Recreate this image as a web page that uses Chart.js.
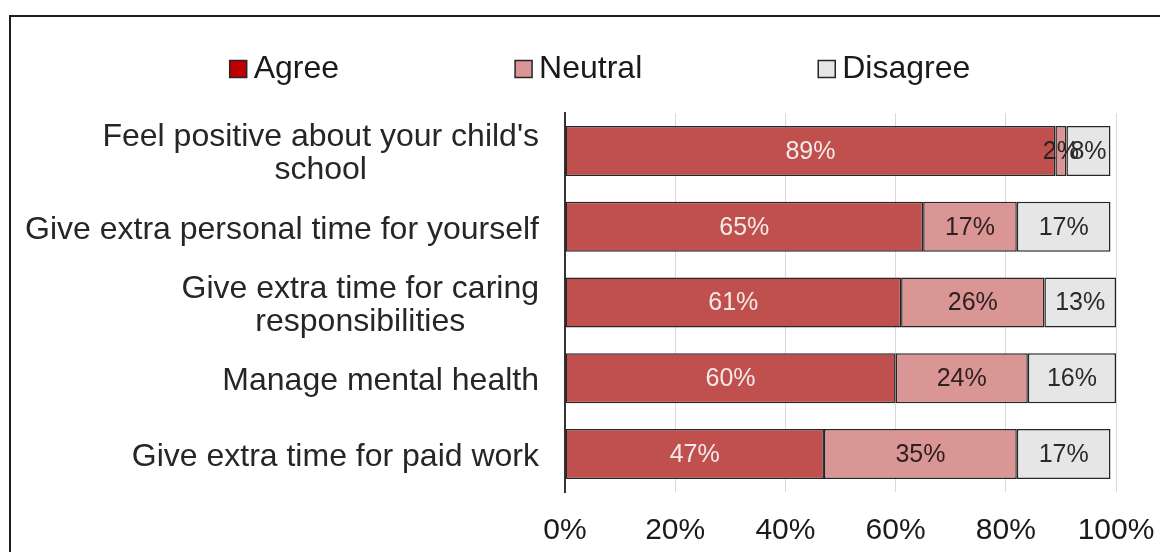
<!DOCTYPE html>
<html>
<head>
<meta charset="utf-8">
<script src="https://cdn.jsdelivr.net/npm/chart.js@4.4.1/dist/chart.umd.min.js"></script>
<style>
  html, body { margin: 0; padding: 0; background: #fff; overflow: hidden; }
  #wrap { position: absolute; left: 0; top: 0; width: 1160px; height: 552px; }
  #frame { position: absolute; left: 9px; top: 15px; width: 1200px; height: 600px; border: 2px solid #1e1e1e; pointer-events: none; }
</style>
</head>
<body>
<div id="wrap"><canvas id="surveyChart"></canvas></div>
<div id="frame"></div>
<script>
const FONT = '"Liberation Sans", Arial, sans-serif';

const categories = [
    ["Feel positive about your child's", "school"],
    ["Give extra personal time for yourself"],
    ["Give extra time for caring", "responsibilities"],
    ["Manage mental health"],
    ["Give extra time for paid work"]
];
const seriesNames = ["Agree", "Neutral", "Disagree"];
const agree = [89, 65, 61, 60, 47];
const neutral = [2, 17, 26, 24, 35];
const disagree = [8, 17, 13, 16, 17];

const barColors = ["#c0504d", "#d99694", "#e7e6e6"];
const legendColors = ["#c00000", "#d99694", "#e7e6e6"];
const valueColors = ["#f5e9e9", "#2e2121", "#2a2a2a"];

// category names on the left, each multi-line name centred on its own longest line
const categoryLabels = {
    id: "categoryLabels",
    afterDraw(chart) {
        const {ctx, scales: {y}} = chart;
        ctx.save();
        ctx.font = "32px " + FONT;
        ctx.fillStyle = "#262626";
        ctx.textAlign = "center";
        ctx.textBaseline = "middle";
        const right = y.right - 26;
        categories.forEach((lines, i) => {
            const widest = Math.max(...lines.map(l => ctx.measureText(l).width));
            const cy = y.getPixelForTick(i) + 3;
            lines.forEach((line, j) => {
                ctx.fillText(line, right - widest / 2, cy + (j - (lines.length - 1) / 2) * 33);
            });
        });
        ctx.restore();
    }
};

// percentage written in the middle of every segment
const valueLabels = {
    id: "valueLabels",
    afterDatasetsDraw(chart) {
        const ctx = chart.ctx;
        ctx.save();
        ctx.font = "25px " + FONT;
        ctx.textAlign = "center";
        ctx.textBaseline = "middle";
        chart.data.datasets.forEach((ds, di) => {
            ctx.fillStyle = valueColors[di];
            chart.getDatasetMeta(di).data.forEach((bar, i) => {
                const {x, y, base} = bar.getProps(["x", "y", "base"], true);
                ctx.fillText(ds.data[i] + "%", (x + base) / 2, y + 1);
            });
        });
        ctx.restore();
    }
};

// legend row above the plot
const legendRow = {
    id: "legendRow",
    afterDraw(chart) {
        const ctx = chart.ctx;
        const box = 17, gapText = 7, gapItem = 176, cy = 69, centre = 600;
        ctx.save();
        ctx.font = "32px " + FONT;
        const items = chart.data.datasets.map((ds, i) => ({
            text: ds.label,
            color: legendColors[i],
            w: box + gapText + ctx.measureText(ds.label).width
        }));
        const total = items.reduce((s, it) => s + it.w, 0) + gapItem * (items.length - 1);
        let x = centre - total / 2;
        ctx.textBaseline = "middle";
        ctx.textAlign = "left";
        items.forEach(it => {
            ctx.fillStyle = it.color;
            ctx.fillRect(x, cy - box / 2, box, box);
            ctx.strokeStyle = "#262626";
            ctx.lineWidth = 1.5;
            ctx.strokeRect(x, cy - box / 2, box, box);
            ctx.fillStyle = "#1a1a1a";
            ctx.fillText(it.text, x + box + gapText, cy);
            x += it.w + gapItem;
        });
        ctx.restore();
    }
};

const ctx = document.getElementById("surveyChart");
new Chart(ctx, {
    type: "bar",
    data: {
        labels: categories,
        datasets: [agree, neutral, disagree].map((values, i) => ({
            label: seriesNames[i],
            data: values,
            backgroundColor: barColors[i],
            borderColor: "#262626",
            borderWidth: 1.5,
            borderSkipped: false,
            categoryPercentage: 1,
            barPercentage: 0.66
        }))
    },
    options: {
        indexAxis: "y",
        responsive: true,
        maintainAspectRatio: false,
        animation: false,
        layout: {
            padding: {left: 0, top: 113, right: 44, bottom: 0}
        },
        plugins: {
            legend: {display: false},
            tooltip: {enabled: false}
        },
        scales: {
            x: {
                stacked: true,
                min: 0,
                max: 100,
                afterFit(scale) {
                    scale.height = 60;
                    scale.paddingLeft = 0;
                    scale.paddingRight = 0;
                },
                ticks: {
                    stepSize: 20,
                    padding: 21,
                    color: "#1a1a1a",
                    font: {family: FONT, size: 30},
                    callback: v => v + "%"
                },
                grid: {color: "#d9d9d9", lineWidth: 1, drawTicks: false},
                border: {display: false}
            },
            y: {
                stacked: true,
                afterFit(scale) { scale.width = 565; },
                ticks: {display: false},
                grid: {display: false, drawTicks: false},
                border: {display: true, color: "#333333", width: 2}
            }
        }
    },
    plugins: [categoryLabels, valueLabels, legendRow]
});
</script>
</body>
</html>
